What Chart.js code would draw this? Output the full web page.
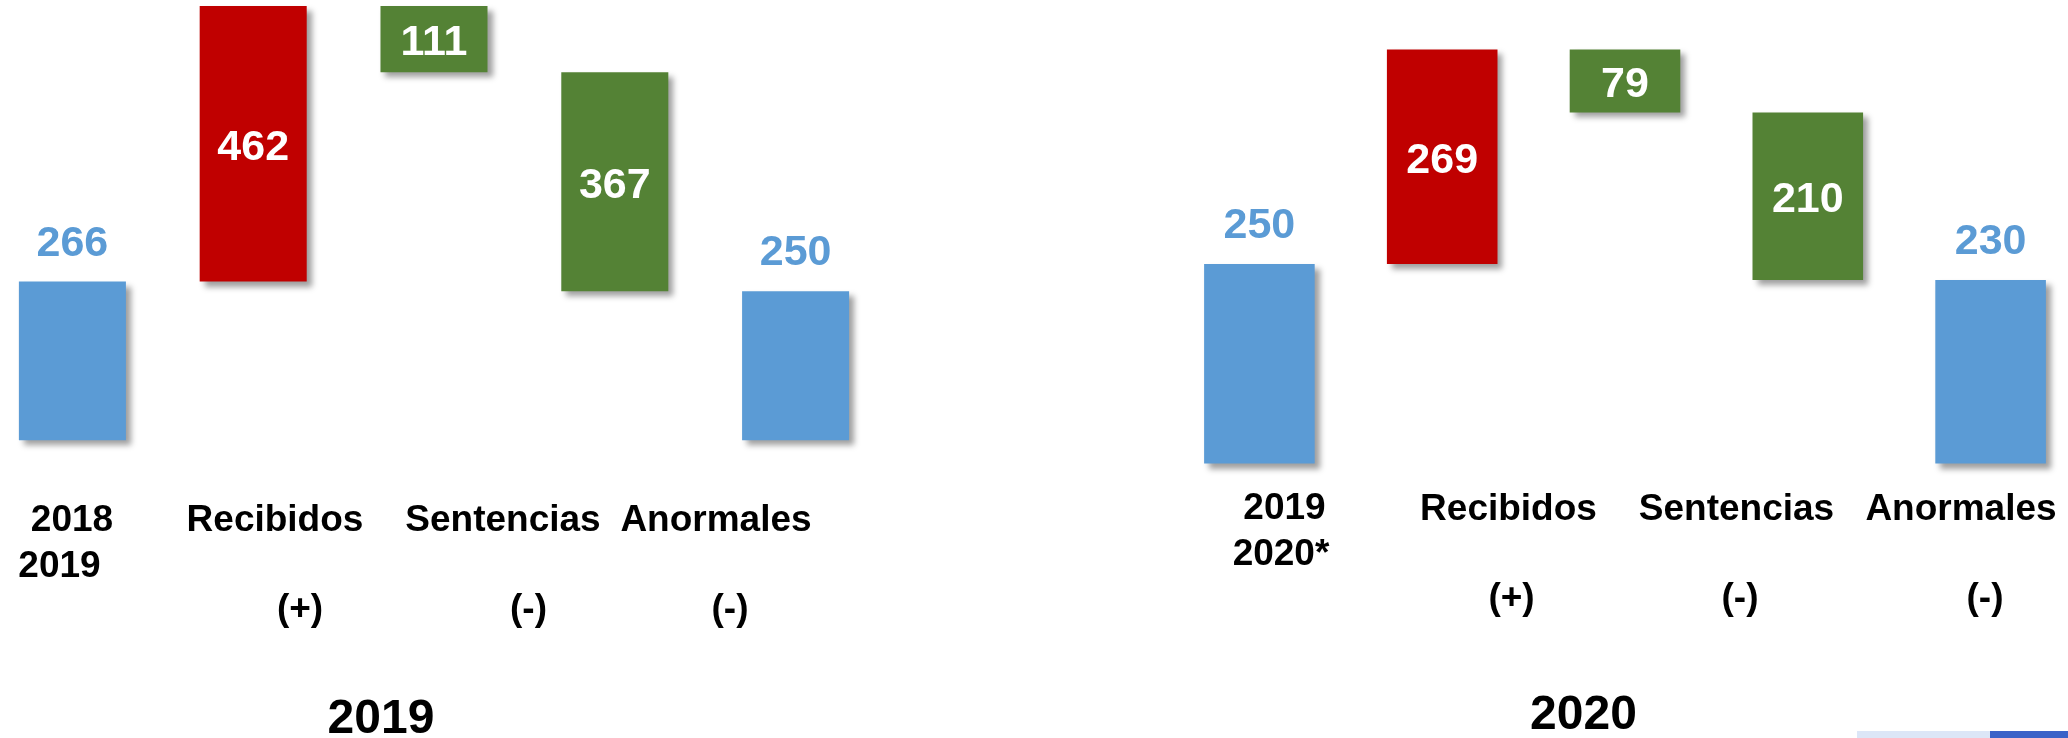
<!DOCTYPE html>
<html>
<head>
<meta charset="utf-8">
<script src="https://cdn.jsdelivr.net/npm/chart.js@4"></script>
<style>
  html, body { margin: 0; padding: 0; background: #ffffff; }
  #page { position: relative; width: 2068px; height: 738px; overflow: hidden; background: #ffffff; }
  canvas { position: absolute; top: 0; }
  .txt { position: absolute; white-space: pre; font-family: 'Liberation Sans', Arial, sans-serif; font-weight: bold; transform: translateX(-50%); color: #000; }
  .deco { position: absolute; }
</style>
</head>
<body>
<div id="page">
  <canvas id="c2019" width="904" height="738" style="left:-18px"></canvas>
  <canvas id="c2020" width="914" height="738" style="left:1168px"></canvas>
</div>
<script>
// ---------------- DATA ----------------
const categories2019 = ['2018-2019', 'Recibidos', 'Sentencias', 'Anormales', '2019'];
const values2019 = [266, 462, 111, 367, 250];
const categories2020 = ['2019-2020*', 'Recibidos', 'Sentencias', 'Anormales', '2020*'];
const values2020 = [250, 269, 79, 210, 230];
const stepTypes = ['total', 'increase', 'decrease', 'decrease', 'total'];

const periodLines2019 = ['2018', '2019'];
const periodLines2020 = ['2019', '2020*'];
const flowLabels = ['Recibidos', 'Sentencias', 'Anormales'];
const flowSigns = ['(+)', '(-)', '(-)'];
const panelTitles = ['2019', '2020'];

// ---------------- STYLE ----------------
const COLORS = { total: '#5B9BD5', increase: '#C00000', decrease: '#548235' };
const FONT = "'Liberation Sans', Arial, sans-serif";

// Build floating waterfall ranges from the values
function waterfall(values, types) {
  let level = 0;
  return values.map((v, i) => {
    const t = types[i];
    if (t === 'total') { level = v; return [0, v]; }
    if (t === 'increase') { const r = [level, level + v]; level += v; return r; }
    const r = [level - v, level]; level -= v; return r;
  });
}

const shadowAndLabels = {
  id: 'shadowAndLabels',
  beforeDatasetsDraw(chart) {
    const ctx = chart.ctx;
    ctx.save();
    ctx.shadowColor = 'rgba(0,0,0,0.38)';
    ctx.shadowBlur = 6;
    ctx.shadowOffsetX = 5;
    ctx.shadowOffsetY = 5;
  },
  afterDatasetsDraw(chart) {
    const ctx = chart.ctx;
    ctx.restore();
    const ds = chart.data.datasets[0];
    const meta = chart.getDatasetMeta(0);
    ctx.save();
    ctx.font = 'bold 43px ' + FONT;
    ctx.textAlign = 'center';
    ctx.textBaseline = 'alphabetic';
    meta.data.forEach((bar, i) => {
      const p = bar.getProps(['x', 'y', 'base'], true);
      const top = Math.min(p.y, p.base);
      const bottom = Math.max(p.y, p.base);
      const txt = String(ds.rawValues[i]);
      if (ds.types[i] === 'total') {
        ctx.fillStyle = COLORS.total;
        ctx.fillText(txt, p.x, top - 26);
      } else {
        ctx.fillStyle = '#ffffff';
        ctx.fillText(txt, p.x, (top + bottom) / 2 + 16);
      }
    });
    ctx.restore();
  }
};

function makeChart(id, cats, values, yMin, yMax, catPct) {
  return new Chart(document.getElementById(id), {
    type: 'bar',
    data: {
      labels: cats,
      datasets: [{
        data: waterfall(values, stepTypes),
        rawValues: values,
        types: stepTypes,
        backgroundColor: stepTypes.map(t => COLORS[t]),
        borderWidth: 0,
        borderSkipped: false,
        barPercentage: 1,
        categoryPercentage: catPct
      }]
    },
    options: {
      responsive: false,
      animation: false,
      devicePixelRatio: 1,
      layout: { padding: 0 },
      plugins: { legend: { display: false }, tooltip: { enabled: false } },
      scales: {
        x: { display: false, offset: true, grid: { display: false } },
        y: { display: false, min: yMin, max: yMax, grid: { display: false } }
      }
    },
    plugins: [shadowAndLabels]
  });
}

makeChart('c2019', categories2019, values2019, -499, 738, 0.592);
makeChart('c2020', categories2020, values2020, -344, 581, 0.605);

// ---------------- TEXT (HTML) ----------------
const page = document.getElementById('page');
function addText(str, cx, baseline, size) {
  const d = document.createElement('div');
  d.className = 'txt';
  d.textContent = str;
  d.style.fontSize = size + 'px';
  d.style.lineHeight = size + 'px';
  d.style.left = cx + 'px';
  d.style.top = (baseline - 0.8465 * size) + 'px';
  page.appendChild(d);
}

// Panel 2019
addText(periodLines2019[0], 72, 531, 37);
addText(periodLines2019[1], 59.5, 577, 37);
[275, 503, 716].forEach((x, i) => addText(flowLabels[i], x, 531, 37));
[300, 528.5, 730].forEach((x, i) => addText(flowSigns[i], x, 620, 37));
addText(panelTitles[0], 381, 734, 48);

// Panel 2020
addText(periodLines2020[0], 1284.5, 519, 37);
addText(periodLines2020[1], 1281, 565, 37);
[1508.5, 1736.5, 1961].forEach((x, i) => addText(flowLabels[i], x, 520, 37));
[1511.5, 1740, 1985].forEach((x, i) => addText(flowSigns[i], x, 609, 37));
addText(panelTitles[1], 1583.5, 730, 48);

// bottom-right decoration strip
function addDeco(l, t, w, h, c) {
  const d = document.createElement('div');
  d.className = 'deco';
  Object.assign(d.style, { left: l + 'px', top: t + 'px', width: w + 'px', height: h + 'px', background: c });
  page.appendChild(d);
}
addDeco(1857, 731, 133, 7, '#DCE6F7');
addDeco(1990, 731, 78, 7, '#3A62C8');
</script>
</body>
</html>
